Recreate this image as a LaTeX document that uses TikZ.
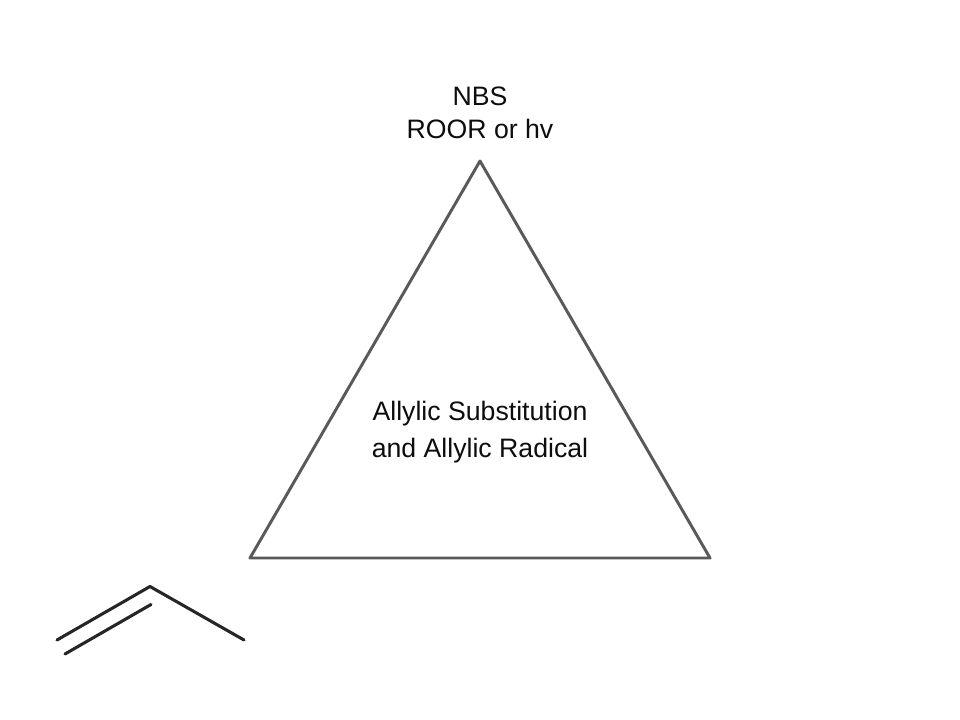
\documentclass[tikz,border=0pt]{standalone}
\usepackage{fontspec}
\setmainfont{Liberation Sans}
\usetikzlibrary{positioning}

\begin{document}
\begin{tikzpicture}[
  x=0.75pt, y=-0.75pt,
  textlabel/.style={align=center, inner sep=0pt, text=black!95},
  edge/.style={draw=black!65, line width=2.2pt, line join=round, line cap=round},
  bond/.style={draw=black!85, line width=2.3pt, line join=round, line cap=round}
]
  \useasboundingbox (0,0) rectangle (960,720);

  % triangle
  \coordinate (apex) at (480,161);
  \coordinate (left) at (250,558);
  \coordinate (right) at (710,558);
  \draw[edge] (apex) -- (left) -- (right) -- cycle;

  % labels
  \node[textlabel, font=\fontsize{20pt}{24.5pt}\selectfont] (reagents) at (480,112.7) {NBS\\ROOR or hv};
  \node[textlabel, font=\fontsize{20pt}{27.8pt}\selectfont] (topic) at (480,432) {Allylic Substitution\\and Allylic Radical};

  % propene
  \coordinate (c1) at (57,640);
  \coordinate (c2) at (150,586.5);
  \coordinate (c3) at (244,640);
  \coordinate (c1b) at (65,654);
  \coordinate (c2b) at (151,604.5);
  \draw[bond] (c1) -- (c2) -- (c3);
  \draw[bond] (c1b) -- (c2b);
\end{tikzpicture}
\end{document}
